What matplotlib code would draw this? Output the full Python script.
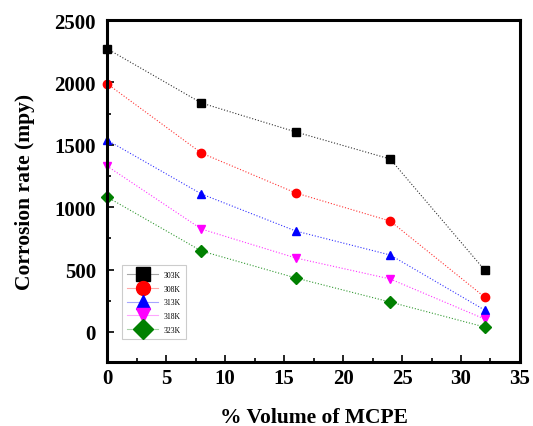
import matplotlib
matplotlib.use("Agg")
import matplotlib.pyplot as plt
from matplotlib.colors import to_rgba
from matplotlib.ticker import MultipleLocator

plt.rcParams['font.family'] = ['Liberation Serif', 'DejaVu Serif']

volume = [0, 8, 16, 24, 32]
rate_303 = [2270, 1835, 1603, 1386, 497]
rate_308 = [1990, 1434, 1114, 889, 280]
rate_313 = [1538, 1106, 809, 617, 176]
rate_318 = [1330, 825, 593, 425, 104]
rate_323 = [1082, 649, 433, 240, 40]

series = [
    ("303K", rate_303, "black", "s"),
    ("308K", rate_308, "red", "o"),
    ("313K", rate_313, "blue", "^"),
    ("318K", rate_318, "magenta", "v"),
    ("323K", rate_323, "green", "D"),
]

fig = plt.figure(figsize=(5.33, 4.27), dpi=100)
ax = fig.add_axes([0.2008, 0.150, 0.7748, 0.8008])

handles = []
for label, vals, color, marker in series:
    ax.plot(volume, vals, linestyle=':', linewidth=0.8, color=color, alpha=0.8)
    ax.plot(volume, vals, linestyle='none', marker=marker, markersize=6,
            color=color, clip_on=False)
    h, = ax.plot([], [], linestyle='-', linewidth=0.8,
                 color=to_rgba(color, 0.35), marker=marker, markersize=10,
                 markerfacecolor=color, markeredgecolor=color,
                 label=label)
    handles.append(h)

ax.set_xlim(0, 35)
ax.set_ylim(-240, 2500)
ax.xaxis.set_major_locator(MultipleLocator(5))
ax.xaxis.set_minor_locator(MultipleLocator(2.5))
ax.yaxis.set_major_locator(MultipleLocator(500))
ax.yaxis.set_minor_locator(MultipleLocator(250))
ax.tick_params(which='both', direction='in', width=1.2)
ax.tick_params(which='major', length=5, labelsize=15)
ax.tick_params(axis='x', which='major', pad=4)
ax.tick_params(axis='y', which='major', pad=8)
ax.tick_params(which='minor', length=3)
for lbl in ax.get_xticklabels() + ax.get_yticklabels():
    lbl.set_fontweight('bold')
for sp in ax.spines.values():
    sp.set_linewidth(2.2)

ax.set_xlabel('% Volume of MCPE', fontsize=15.5, fontweight='bold', labelpad=14)
ax.set_ylabel('Corrosion rate (mpy)', fontsize=15.5, fontweight='bold', labelpad=14)

leg = ax.legend(handles=handles, loc='lower left', fontsize=5.5,
                bbox_to_anchor=(0.036, 0.067), handlelength=4.0,
                borderpad=0.7, labelspacing=0.75, handletextpad=0.7,
                borderaxespad=0,
                fancybox=False, edgecolor='#cccccc', framealpha=1)
leg.get_frame().set_linewidth(0.8)

fig.savefig('out.png', dpi=100)
